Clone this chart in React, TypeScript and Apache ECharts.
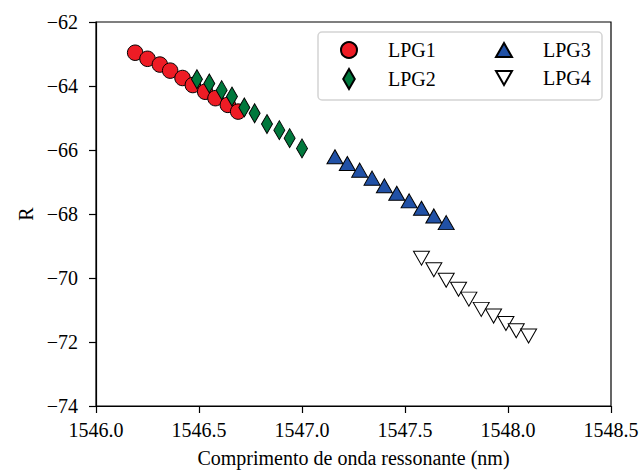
import React, { useEffect, useRef } from "react";
import * as echarts from "echarts";

const lpg1X = [1546.19, 1546.25, 1546.31, 1546.36, 1546.42, 1546.47, 1546.53, 1546.58, 1546.64, 1546.69];
const lpg1Y = [-62.96, -63.15, -63.33, -63.52, -63.75, -63.97, -64.18, -64.38, -64.59, -64.8];
const lpg2X = [1546.49, 1546.55, 1546.61, 1546.66, 1546.72, 1546.77, 1546.83, 1546.89, 1546.94, 1547.0];
const lpg2Y = [-63.79, -63.92, -64.13, -64.33, -64.67, -64.85, -65.19, -65.38, -65.63, -65.95];
const lpg3X = [1547.16, 1547.22, 1547.28, 1547.34, 1547.4, 1547.46, 1547.52, 1547.58, 1547.64, 1547.7];
const lpg3Y = [-66.21, -66.42, -66.63, -66.88, -67.12, -67.35, -67.59, -67.82, -68.06, -68.27];
const lpg4X = [1547.58, 1547.64, 1547.7, 1547.76, 1547.81, 1547.87, 1547.93, 1547.99, 1548.04, 1548.1];
const lpg4Y = [-69.38, -69.74, -70.07, -70.35, -70.66, -70.98, -71.19, -71.42, -71.65, -71.81];

const xLabel = "Comprimento de onda ressonante (nm)";
const yLabel = "R";

const FONT = "'Liberation Serif', 'Times New Roman', serif";

const zip = (xs: number[], ys: number[]) => xs.map((x, i) => [x, ys[i]]);

export default function App() {
  const ref = useRef<HTMLDivElement>(null);
  useEffect(() => {
    document.body.style.margin = "0";
    const chart = echarts.init(ref.current!, null, { renderer: "svg" });
    const legendText = {
      fontFamily: FONT,
      fontSize: 20,
      color: "#000",
      padding: [0, 0, 0, 26],
    };
    chart.setOption({
      animation: false,
      backgroundColor: "#fff",
      textStyle: { fontFamily: FONT },
      grid: {
        left: 96,
        right: 29,
        top: 22,
        bottom: 65,
        outerBoundsMode: "none",
        containLabel: false,
        show: true,
        borderColor: "#000",
        borderWidth: 1.2,
        backgroundColor: "transparent",
      },
      graphic: [
        {
          type: "rect",
          z: 3,
          shape: { x: 318, y: 32, width: 284, height: 68, r: 4 },
          style: { fill: "#fff", stroke: "#d4d4d4", lineWidth: 1.5 },
        },
      ],
      legend: [
        {
          data: ["LPG1", { name: "LPG2", icon: "path://M5.5,0L11,9.5L5.5,19L0,9.5Z" }],
          orient: "vertical",
          left: 340,
          top: 40,
          padding: 0,
          itemWidth: 16,
          itemHeight: 20,
          itemGap: 8,
          textStyle: legendText,
          z: 5,
        },
        {
          data: ["LPG3", { name: "LPG4", icon: "path://M0,0L16,0L8,14Z", symbolRotate: 0 }],
          orient: "vertical",
          left: 495,
          top: 40,
          padding: 0,
          itemWidth: 16,
          itemHeight: 14,
          itemGap: 8,
          symbolRotate: 0,
          textStyle: legendText,
          z: 5,
        },
      ],
      xAxis: {
        type: "value",
        min: 1546,
        max: 1548.5,
        interval: 0.5,
        name: xLabel,
        nameLocation: "middle",
        nameGap: 42,
        nameTextStyle: { fontFamily: FONT, fontSize: 20, color: "#000" },
        axisLine: { show: true, onZero: false, lineStyle: { color: "#000", width: 1.2 } },
        axisTick: { show: true, length: 7, lineStyle: { color: "#000", width: 1.2 } },
        axisLabel: {
          fontFamily: FONT,
          fontSize: 20,
          color: "#000",
          margin: 14,
          formatter: (v: number) => v.toFixed(1),
        },
        splitLine: { show: false },
      },
      yAxis: {
        type: "value",
        min: -74,
        max: -62,
        interval: 2,
        name: yLabel,
        nameLocation: "middle",
        nameGap: 60,
        nameTextStyle: { fontFamily: FONT, fontSize: 20, color: "#000" },
        axisLine: { show: true, onZero: false, lineStyle: { color: "#000", width: 1.2 } },
        axisTick: { show: true, length: 7, lineStyle: { color: "#000", width: 1.2 } },
        axisLabel: {
          fontFamily: FONT,
          fontSize: 20,
          color: "#000",
          margin: 18,
          formatter: (v: number) => (v < 0 ? "\u2212" + Math.abs(v) : String(v)),
        },
        splitLine: { show: false },
      },
      series: [
        {
          name: "LPG1",
          type: "scatter",
          data: zip(lpg1X, lpg1Y),
          symbol: "circle",
          symbolSize: 15.5,
          itemStyle: { color: "#EE1C25", borderColor: "#000", borderWidth: 1, opacity: 1 },
          z: 2,
        },
        {
          name: "LPG2",
          type: "scatter",
          data: zip(lpg2X, lpg2Y),
          symbol: "diamond",
          symbolSize: [11, 19],
          itemStyle: { color: "#00783C", borderColor: "#000", borderWidth: 1, opacity: 1 },
          z: 3,
        },
        {
          name: "LPG3",
          type: "scatter",
          data: zip(lpg3X, lpg3Y),
          symbol: "triangle",
          symbolSize: [16, 14],
          itemStyle: { color: "#2151A6", borderColor: "#000", borderWidth: 1, opacity: 1 },
          z: 4,
        },
        {
          name: "LPG4",
          type: "scatter",
          data: zip(lpg4X, lpg4Y),
          symbol: "triangle",
          symbolRotate: 180,
          symbolSize: [16, 14],
          itemStyle: { color: "#ffffff", borderColor: "#000", borderWidth: 1, opacity: 1 },
          z: 5,
        },
      ],
    });
    return () => chart.dispose();
  }, []);
  return <div ref={ref} style={{ width: 640, height: 471 }} />;
}
